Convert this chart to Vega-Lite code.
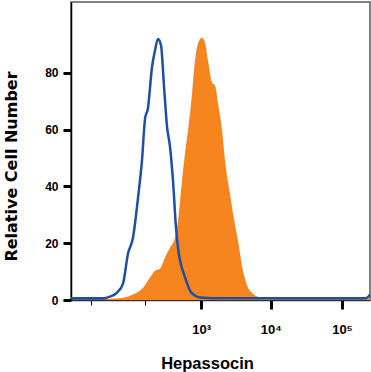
{
  "$schema": "https://vega.github.io/schema/vega-lite/v6.json",
  "width": 299,
  "height": 298,
  "autosize": {"type": "none"},
  "padding": {"left": 71, "top": 2, "right": 1, "bottom": 72},
  "config": {"view": {"stroke": "#555555", "strokeWidth": 1.5}, "font": "Liberation Sans"},
  "datasets": {
    "sample": [
      {"x": -262, "count": 0}, {"x": -50, "count": 0}, {"x": -21.7, "count": 0.4}, {"x": 13, "count": 0.8},
      {"x": 46, "count": 1.9}, {"x": 92, "count": 4.3}, {"x": 133, "count": 7.9}, {"x": 170, "count": 10.3},
      {"x": 212, "count": 11}, {"x": 262, "count": 15}, {"x": 321, "count": 18.4}, {"x": 390, "count": 22},
      {"x": 437, "count": 28}, {"x": 507, "count": 42}, {"x": 566, "count": 51.6}, {"x": 631, "count": 59.7},
      {"x": 728, "count": 72.7}, {"x": 810, "count": 84.4}, {"x": 898, "count": 90.4}, {"x": 1032, "count": 92.4},
      {"x": 1145, "count": 90.7}, {"x": 1268, "count": 84.4}, {"x": 1453, "count": 76.6}, {"x": 1608, "count": 75.6},
      {"x": 1779, "count": 69.2}, {"x": 2034, "count": 59.7}, {"x": 2248, "count": 49.1}, {"x": 2653, "count": 37.4},
      {"x": 2927, "count": 30.4}, {"x": 3453, "count": 20.9}, {"x": 4069, "count": 10.3}, {"x": 4793, "count": 4.3},
      {"x": 5644, "count": 2.2}, {"x": 7090, "count": 0.8}, {"x": 8900, "count": 0.4}, {"x": 12000, "count": 0.2},
      {"x": 200000, "count": 0.2}, {"x": 240000, "count": 0.6}, {"x": 247000, "count": 1.0}
    ],
    "control": [
      {"x": -262, "count": 0.6}, {"x": -100, "count": 0.6}, {"x": -46, "count": 0.6}, {"x": -21.7, "count": 1.2},
      {"x": -2.4, "count": 2.6}, {"x": 13, "count": 5.8}, {"x": 28, "count": 16.3}, {"x": 46, "count": 22},
      {"x": 67, "count": 36}, {"x": 86, "count": 49}, {"x": 103, "count": 64}, {"x": 120, "count": 67.5},
      {"x": 147, "count": 82}, {"x": 170, "count": 88}, {"x": 194, "count": 92}, {"x": 222, "count": 89.7},
      {"x": 252, "count": 75}, {"x": 285, "count": 61}, {"x": 321, "count": 54}, {"x": 361, "count": 42},
      {"x": 405, "count": 25.5}, {"x": 437, "count": 18.4}, {"x": 471, "count": 14}, {"x": 566, "count": 8},
      {"x": 678, "count": 3.3}, {"x": 810, "count": 1.5}, {"x": 963, "count": 0.9}, {"x": 2000, "count": 0.6},
      {"x": 10000, "count": 0.6}, {"x": 100000, "count": 0.6}, {"x": 210000, "count": 0.6}, {"x": 235000, "count": 1.2},
      {"x": 247000, "count": 2}
    ]
  },
  "layer": [
    {
      "data": {"name": "sample"},
      "mark": {"type": "area", "color": "#F6841F", "interpolate": "monotone", "clip": true},
      "encoding": {
        "x": {
          "field": "x", "type": "quantitative",
          "scale": {"type": "symlog", "constant": 74, "domain": [-262, 247000], "nice": false},
          "axis": {
            "title": "Hepassocin",
            "values": [-100, 0, 100, 300, 1000, 3000, 10000, 30000, 100000, 200000],
            "labelExpr": "datum.value==0?'0':datum.value==1000?'10³':datum.value==10000?'10⁴':datum.value==100000?'10⁵':''",
            "tickSize": {"condition": {"test": "datum.value==0||datum.value==1000||datum.value==10000||datum.value==100000", "value": 9}, "value": 5},
            "tickWidth": {"condition": {"test": "datum.value==0||datum.value==1000||datum.value==10000||datum.value==100000", "value": 3}, "value": 1},
            "tickColor": "#000000",
            "domainColor": "#333333",
            "domainWidth": 1.5,
            "grid": false,
            "labelFont": "Liberation Sans",
            "labelFontWeight": "bold",
            "labelFontSize": 13,
            "labelColor": "#000000",
            "labelPadding": 14,
            "labelFlush": false,
            "labelOverlap": false,
            "labelBound": false,
            "titleFont": "Liberation Sans",
            "titleFontSize": 16.5,
            "titleFontWeight": "bold",
            "titleColor": "#000000",
            "titleX": 136,
            "titleY": 68,
            "titleAlign": "center",
            "titleBaseline": "alphabetic"
          }
        },
        "y": {
          "field": "count", "type": "quantitative",
          "scale": {"domain": [0, 105], "nice": false},
          "axis": {
            "title": "Relative Cell Number",
            "values": [0, 20, 40, 60, 80, 100, 10, 30, 50, 70],
            "labelExpr": "datum.value%20==0?datum.label:''",
            "tickSize": {"condition": {"test": "datum.value%20==0", "value": 8}, "value": 4},
            "tickWidth": {"condition": {"test": "datum.value%20==0", "value": 3}, "value": 1},
            "tickColor": "#000000",
            "domainColor": "#000000",
            "domainWidth": 1.5,
            "grid": false,
            "labelFont": "Liberation Sans",
            "labelFontWeight": "bold",
            "labelFontSize": 12,
            "labelColor": "#000000",
            "labelPadding": 5,
            "labelOverlap": false,
            "labelBound": false,
            "labelFlush": false,
            "titleFont": "DejaVu Sans",
            "titleFontSize": 16,
            "titleFontWeight": "bold",
            "titleColor": "#000000",
            "titleX": -55,
            "titleY": 164,
            "titleAlign": "center",
            "titleBaseline": "alphabetic"
          }
        }
      }
    },
    {
      "data": {"name": "control"},
      "mark": {"type": "line", "color": "#1F4FA3", "strokeWidth": 2.5, "interpolate": "monotone", "clip": true},
      "encoding": {
        "x": {"field": "x", "type": "quantitative"},
        "y": {"field": "count", "type": "quantitative"}
      }
    }
  ]
}
